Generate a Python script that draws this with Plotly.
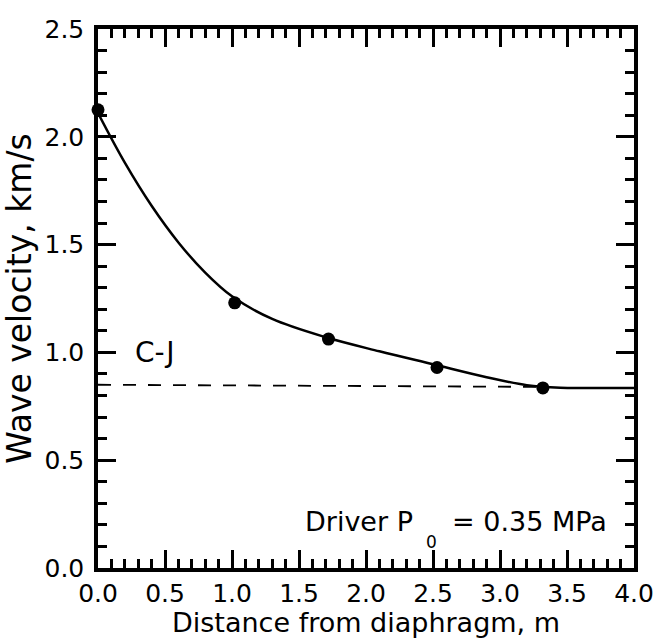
import plotly.graph_objects as go

# measured points
pt_x = [0.0, 1.02, 1.72, 2.53, 3.32]
pt_y = [2.125, 1.23, 1.062, 0.93, 0.835]

# fitted smooth curve
curve_x = [0.0, 0.2, 0.4, 0.6, 0.8, 1.0, 1.3, 1.7, 2.1, 2.5, 2.9, 3.2, 3.45, 3.7, 4.0]
curve_y = [2.11, 1.88, 1.68, 1.51, 1.37, 1.26, 1.155, 1.07, 1.005, 0.945, 0.885, 0.848, 0.836, 0.835, 0.835]

# C-J velocity line
cj_x = [0.0, 3.3]
cj_y = [0.85, 0.84]

x_ticks = [0.0, 0.5, 1.0, 1.5, 2.0, 2.5, 3.0, 3.5, 4.0]
y_ticks = [0.0, 0.5, 1.0, 1.5, 2.0, 2.5]

x_title = "Distance from diaphragm, m"
y_title = "Wave velocity, km/s"

FONT = "DejaVu Sans"

fig = go.Figure()
fig.add_trace(go.Scatter(x=cj_x, y=cj_y, mode="lines",
                         line=dict(color="black", width=1.8, dash="13px,12px"),
                         showlegend=False, hoverinfo="skip"))
fig.add_trace(go.Scatter(x=curve_x, y=curve_y, mode="lines",
                         line=dict(color="black", width=2.5, shape="spline", smoothing=1.0),
                         showlegend=False, hoverinfo="skip"))
fig.add_trace(go.Scatter(x=pt_x, y=pt_y, mode="markers",
                         marker=dict(color="black", size=13),
                         cliponaxis=False, showlegend=False))

axis_common = dict(
    showgrid=False, zeroline=False, showline=True, linecolor="black", linewidth=3.5,
    mirror="allticks", ticks="inside", ticklen=18, tickwidth=3, tickcolor="black",
    tickfont=dict(family=FONT, size=25, color="black"), automargin=False,
    minor=dict(ticks="inside", ticklen=9, tickwidth=2.5, tickcolor="black", dtick=0.1, showgrid=False),
)

fig.update_xaxes(range=[0, 4.0], tickvals=x_ticks, ticktext=[f"{v:.1f}" for v in x_ticks],
                 ticklabelstandoff=0, **axis_common)
fig.update_yaxes(range=[0, 2.5], tickvals=y_ticks, ticktext=[f"{v:.1f}" for v in y_ticks],
                 title=dict(text=y_title, font=dict(family=FONT, size=33, color="black")),
                 ticklabelstandoff=5, **axis_common)

# x-axis title
fig.add_annotation(xref="paper", yref="paper", x=0.5, y=-0.101, yanchor="middle",
                   text=x_title, showarrow=False,
                   font=dict(family=FONT, size=27, color="black"))

fig.add_annotation(x=0.425, y=1.0, text="C-J", showarrow=False,
                   font=dict(family=FONT, size=28, color="black"))
fig.add_annotation(x=2.366, y=0.215, text="Driver P", showarrow=False, xanchor="right",
                   font=dict(family=FONT, size=27, color="black"))
fig.add_annotation(x=2.49, y=0.12, text="0", showarrow=False,
                   font=dict(family=FONT, size=17, color="black"))
fig.add_annotation(x=2.627, y=0.215, text="= 0.35 MPa", showarrow=False, xanchor="left",
                   font=dict(family=FONT, size=27, color="black"))

fig.update_layout(width=657, height=643, margin=dict(l=98, r=23, t=29, b=75),
                  plot_bgcolor="white", paper_bgcolor="white",
                  font=dict(family=FONT, color="black"))

fig.write_html("out.html")
